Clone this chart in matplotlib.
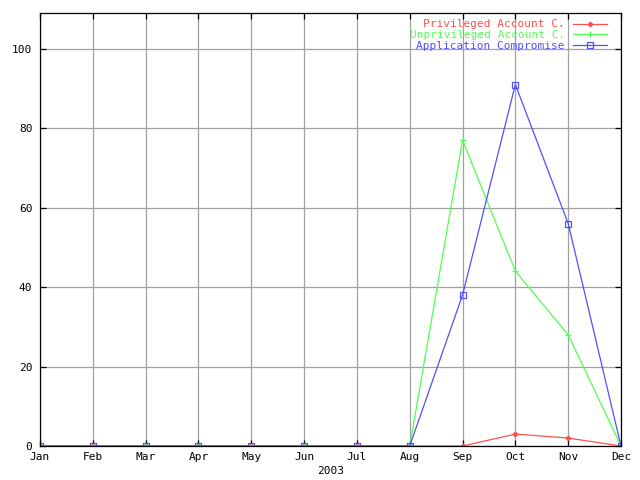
import matplotlib
matplotlib.use('Agg')
import matplotlib.pyplot as plt

months = ['Jan', 'Feb', 'Mar', 'Apr', 'May', 'Jun', 'Jul', 'Aug', 'Sep', 'Oct', 'Nov', 'Dec']
privileged = [0, 0, 0, 0, 0, 0, 0, 0, 0, 3, 2, 0]
unprivileged = [0, 0, 0, 0, 0, 0, 0, 0, 77, 44, 28, 0]
application = [0, 0, 0, 0, 0, 0, 0, 0, 38, 91, 56, 0]
y_ticks = [0, 20, 40, 60, 80, 100]

plt.rcParams['font.family'] = ['DejaVu Sans Mono']
fig = plt.figure(figsize=(6.4, 4.8), dpi=100)
ax = fig.add_axes([40 / 640, 34 / 480, 581 / 640, 433 / 480])

x = list(range(len(months)))
ax.plot(x, privileged, color='#ff5050', lw=0.9, marker='D', ms=2.5, mew=0.8,
        label='Privileged Account C.')
ax.plot(x, unprivileged, color='#50ff50', lw=0.9, marker='+', ms=5, mew=0.9,
        label='Unprivileged Account C.')
ax.plot(x, application, color='#5050ff', lw=0.9, marker='s', ms=4, mew=0.9,
        fillstyle='none', label='Application Compromise')

ax.set_xlim(0, 11)
ax.set_ylim(0, 109)
ax.set_xticks(x)
ax.set_xticklabels(months)
ax.set_yticks(y_ticks)
ax.grid(True, color='#a0a0a0', lw=0.9)
ax.set_axisbelow(True)
ax.tick_params(direction='in', length=4, width=0.9, top=True, right=True,
               labelsize=8, colors='black')
ax.tick_params(axis='x', pad=4)
ax.tick_params(axis='y', pad=5.5)
for s in ax.spines.values():
    s.set_linewidth(0.9)
ax.set_xlabel('2003', fontsize=8, labelpad=3)

# gnuplot style key: labels right aligned, sample line after text
leg = ax.legend(loc='upper right', bbox_to_anchor=(567 / 581, 0.985),
                markerfirst=False, frameon=False, fontsize=8,
                labelspacing=0.05, handlelength=3.1, handletextpad=0.7,
                borderpad=0, borderaxespad=0, labelcolor='linecolor')

fig.savefig('out.png', dpi=100)
